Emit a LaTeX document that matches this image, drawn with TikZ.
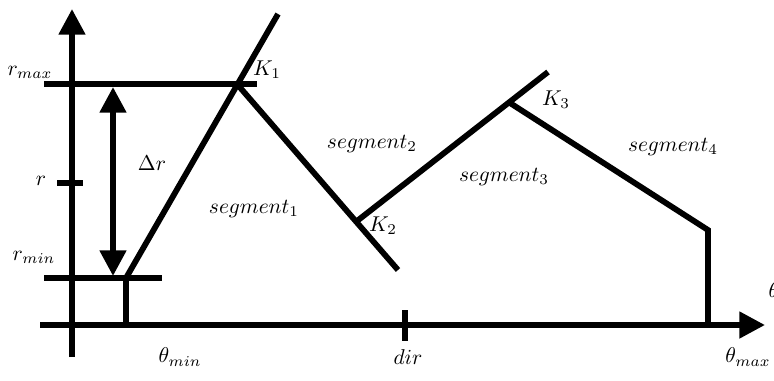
\documentclass[tikz,border=0pt]{standalone}
\usetikzlibrary{arrows.meta}

\begin{document}
\begin{tikzpicture}[
  x=0.0164cm, y=-0.0164cm,
  seg/.style={line width=2.7pt},
  axis/.style={line width=2.7pt, -{Triangle[length=0.42cm, width=0.42cm]}},
  dbl/.style={line width=2.7pt, {Triangle[length=0.42cm, width=0.42cm]}-{Triangle[length=0.42cm, width=0.42cm]}},
  lbl/.style={inner sep=1pt}
]
  \useasboundingbox (0,0) rectangle (774,381);

  % axes
  \coordinate (ybot) at (72,357);
  \coordinate (ytop) at (72,9);
  \coordinate (xleft) at (40,325);
  \coordinate (xright) at (765,325);
  \draw[axis] (ybot) -- (ytop);
  \draw[axis] (xleft) -- (xright);

  % levels and ticks
  \coordinate (rmaxl) at (44,84);
  \coordinate (rmaxr) at (257,84);
  \coordinate (rminl) at (44,278);
  \coordinate (rminr) at (162,278);
  \coordinate (rl) at (57,183);
  \coordinate (rr) at (83,183);
  \coordinate (dirt) at (405,310);
  \coordinate (dirb) at (405,341);
  \draw[seg] (rmaxl) -- (rmaxr);
  \draw[seg] (rminl) -- (rminr);
  \draw[seg] (rl) -- (rr);
  \draw[seg] (dirt) -- (dirb);
  \draw[dbl] (113,87) coordinate (dtop) -- (113,276) coordinate (dbot);

  % knots
  \coordinate (P0) at (126,278);
  \coordinate (P0b) at (126,325);
  \coordinate (K1) at (237,84);
  \coordinate (K1e) at (278,14);
  \coordinate (K2) at (357,221);
  \coordinate (K2e) at (398,270);
  \coordinate (K3) at (510,103);
  \coordinate (K3e) at (548,72);
  \coordinate (P4) at (708,230);
  \coordinate (P4b) at (708,325);

  \draw[seg] (P0b) -- (P0) -- (K1e);
  \draw[seg] (K1) -- (K2e);
  \draw[seg] (K2) -- (K3e);
  \draw[seg, line join=miter] (K3) -- (P4) -- (P4b);

  % labels
  \node[lbl] (lrmax) at (30,72) {$r_{max}$};
  \node[lbl] (lr) at (41,181) {$r$};
  \node[lbl] (lrmin) at (34,257) {$r_{min}$};
  \node[lbl] (ldr) at (152,163) {$\Delta r$};
  \node[lbl] (lK1) at (267,70) {$K_1$};
  \node[lbl] (lK2) at (383,226) {$K_2$};
  \node[lbl] (lK3) at (556,100) {$K_3$};
  \node[lbl] (ls1) at (254,209) {$segment_1$};
  \node[lbl] (ls2) at (372,144) {$segment_2$};
  \node[lbl] (ls3) at (504,177) {$segment_3$};
  \node[lbl] (ls4) at (673,147) {$segment_4$};
  \node[lbl] (lmin) at (180,357) {$\theta_{min}$};
  \node[lbl] (ldir) at (408,357) {$dir$};
  \node[lbl] (lmax) at (748,357) {$\theta_{max}$};
  \node[lbl, anchor=west] (ltheta) at (766,290) {$\theta$};
\end{tikzpicture}
\end{document}
